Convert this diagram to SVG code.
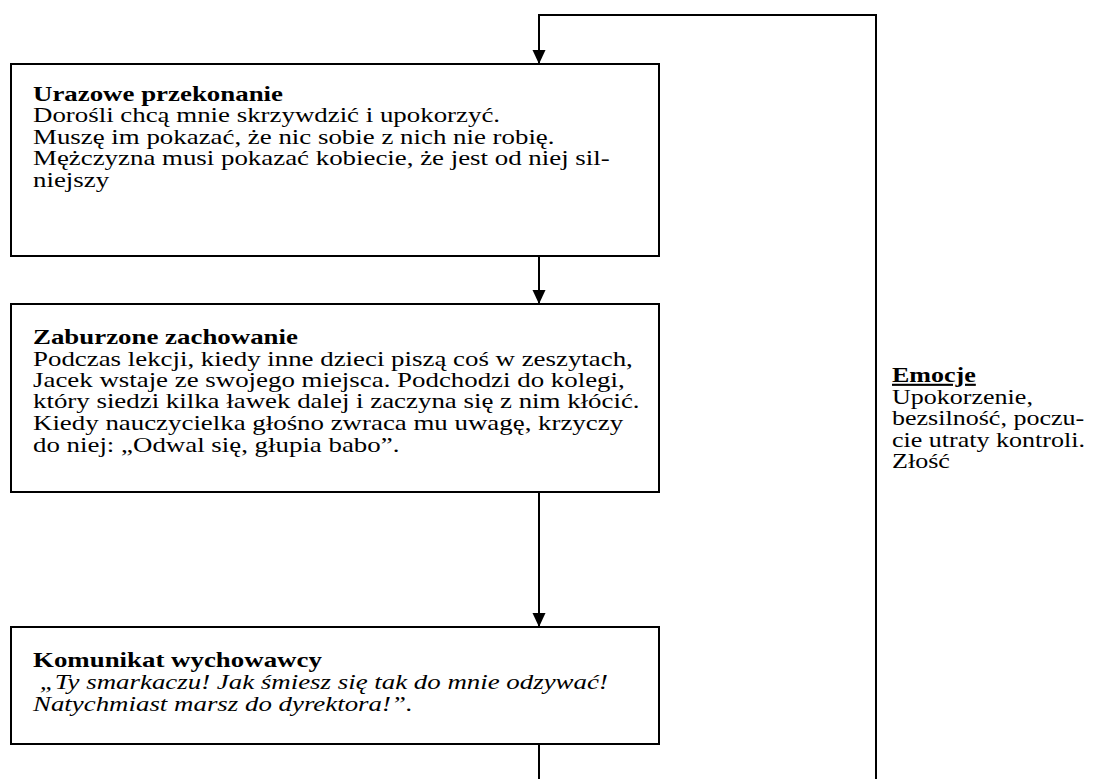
<svg xmlns="http://www.w3.org/2000/svg" width="1093" height="779" viewBox="0 0 1093 779">
<defs>
<marker id="ah" markerWidth="14" markerHeight="14" refX="14" refY="7" orient="auto" markerUnits="userSpaceOnUse">
<path d="M0,0.5 L14,7 L0,13.5 Z" fill="#000"/>
</marker>
<style>
.box{fill:#fff;stroke:#000;stroke-width:2}
.ln{fill:none;stroke:#000;stroke-width:2}
text{font-family:"Liberation Serif","Times New Roman",serif;font-size:21px;fill:#000}
.b{font-weight:bold}
.i{font-style:italic}
.u{text-decoration:underline}
</style>
</defs>
<rect width="1093" height="779" fill="#fff"/>
<g id="connectors">
<path class="ln" d="M876,779 V15 H539 V64" marker-end="url(#ah)"/>
<path class="ln" d="M539,256 V304" marker-end="url(#ah)"/>
<path class="ln" d="M539,492 V627" marker-end="url(#ah)"/>
<path class="ln" d="M539,744 V779"/>
</g>
<g id="node1">
<rect class="box" x="11" y="64" width="648" height="192"/>
<g transform="translate(33,0) scale(1.28,1)">
<text class="b" x="0" y="101">Urazowe przekonanie</text>
<text x="0" y="122">Dorośli chcą mnie skrzywdzić i upokorzyć.</text>
<text x="0" y="144">Muszę im pokazać, że nic sobie z nich nie robię.</text>
<text x="0" y="165">Mężczyzna musi pokazać kobiecie, że jest od niej sil-</text>
<text x="0" y="187">niejszy</text>
</g>
</g>
<g id="node2">
<rect class="box" x="11" y="304" width="648" height="188"/>
<g transform="translate(33,0) scale(1.28,1)">
<text class="b" x="0" y="344">Zaburzone zachowanie</text>
<text x="0" y="366">Podczas lekcji, kiedy inne dzieci piszą coś w zeszytach,</text>
<text x="0" y="387">Jacek wstaje ze swojego miejsca. Podchodzi do kolegi,</text>
<text x="0" y="408">który siedzi kilka ławek dalej i zaczyna się z nim kłócić.</text>
<text x="0" y="430">Kiedy nauczycielka głośno zwraca mu uwagę, krzyczy</text>
<text x="0" y="452">do niej: „Odwal się, głupia babo”.</text>
</g>
</g>
<g id="node3">
<rect class="box" x="11" y="627" width="648" height="117"/>
<g transform="translate(33,0) scale(1.28,1)">
<text class="b" x="0" y="667">Komunikat wychowawcy</text>
<text class="i" x="0" y="689" xml:space="preserve"> „Ty smarkaczu! Jak śmiesz się tak do mnie odzywać!</text>
<text class="i" x="0" y="711">Natychmiast marsz do dyrektora!”.</text>
</g>
</g>
<g id="emotions">
<g transform="translate(892,0) scale(1.24,1)">
<text class="b u" x="0" y="382">Emocje</text>
<text x="0" y="404">Upokorzenie,</text>
<text x="0" y="425">bezsilność, poczu-</text>
<text x="0" y="447">cie utraty kontroli.</text>
<text x="0" y="468">Złość</text>
</g>
</g>
</svg>
